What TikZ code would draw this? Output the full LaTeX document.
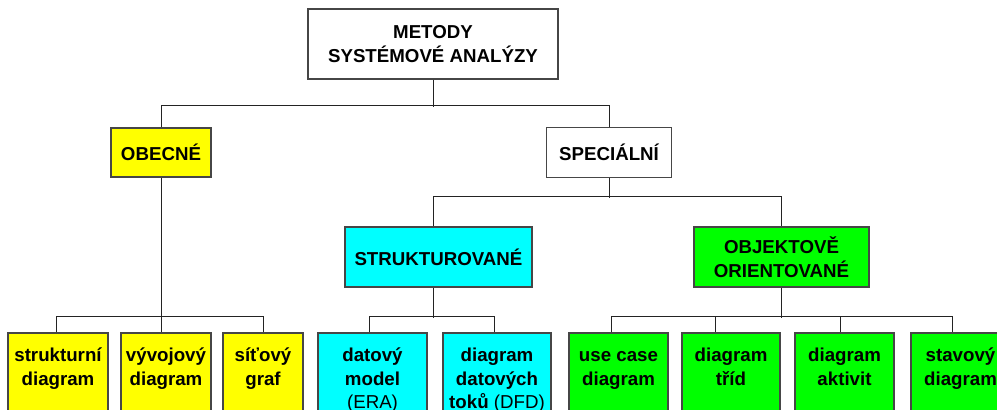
\documentclass[tikz,border=0pt]{standalone}
\usepackage{fontspec}
\setmainfont{Liberation Sans}
\usetikzlibrary{positioning}
\definecolor{boxyellow}{RGB}{255,255,0}
\definecolor{boxcyan}{RGB}{0,255,255}
\definecolor{boxgreen}{RGB}{0,255,0}
\definecolor{edgegray}{RGB}{70,70,70}
\definecolor{linkgray}{RGB}{35,35,35}
\newcommand\diagfont{\fontsize{18.7}{23.5}\selectfont\bfseries}

\begin{document}
\begin{tikzpicture}[x=1pt,y=-1pt,
  box/.style={draw=edgegray, line width=1.3pt, inner sep=0pt, font=\diagfont, align=center},
  leaf/.style={box, minimum height=110pt},
  leaftext/.style={inner sep=0pt, font=\diagfont, align=center},
  link/.style={draw=linkgray, line width=1pt}]

\fill[white] (0,0) rectangle (997,410);
\useasboundingbox (0,0) rectangle (997,410);
\clip (0,0) rectangle (997,410);

% upper levels
\node[box, minimum width=250pt, minimum height=70pt] (root) at (433,44) {METODY\\SYSTÉMOVÉ ANALÝZY};
\node[box, fill=boxyellow, minimum width=100pt, minimum height=49pt] (obec) at (161,152.5) {OBECNÉ};
\node[box, minimum width=125pt, minimum height=50pt] (spec) at (609,152.5) {SPECIÁLNÍ};
\node[box, fill=boxcyan, minimum width=187pt, minimum height=60pt] (strukt) at (438.5,257) {STRUKTUROVANÉ};
\node[box, fill=boxgreen, minimum width=175pt, minimum height=60pt] (objekt) at (781.5,257) {OBJEKTOVĚ\\ORIENTOVANÉ};

% leaf boxes
\node[leaf, fill=boxyellow, minimum width=100pt] (b1) at (58,388) {};
\node[leaf, fill=boxyellow, minimum width=90pt]  (b2) at (166,388) {};
\node[leaf, fill=boxyellow, minimum width=80pt]  (b3) at (263,388) {};
\node[leaf, fill=boxcyan, minimum width=109pt]   (b4) at (372.5,388) {};
\node[leaf, fill=boxcyan, minimum width=108pt]   (b5) at (497,388) {};
\node[leaf, fill=boxgreen, minimum width=99pt]   (b6) at (618.5,388) {};
\node[leaf, fill=boxgreen, minimum width=98pt]   (b7) at (731,388) {};
\node[leaf, fill=boxgreen, minimum width=99pt]   (b8) at (844.5,388) {};
\node[leaf, fill=boxgreen, minimum width=99pt]   (b9) at (960.5,388) {};

% leaf labels, set at the top of each box
\node[leaftext, below=12.5pt of b1.north] (t1) {\strut strukturní\\diagram};
\node[leaftext, below=12.5pt of b2.north] (t2) {\strut vývojový\\diagram};
\node[leaftext, below=12.5pt of b3.north] (t3) {\strut síťový\\graf};
\node[leaftext, below=12.5pt of b4.north] (t4) {\strut datový\\model\\{\mdseries(ERA)}};
\node[leaftext, below=12.5pt of b5.north] (t5) {\strut diagram\\datových\\toků {\mdseries(DFD)}};
\node[leaftext, below=12.5pt of b6.north] (t6) {\strut use case\\diagram};
\node[leaftext, below=12.5pt of b7.north] (t7) {\strut diagram\\tříd};
\node[leaftext, below=12.5pt of b8.north] (t8) {\strut diagram\\aktivit};
\node[leaftext, below=12.5pt of b9.north] (t9) {\strut stavový\\diagram};

% connectors
\draw[link] (root.south) -- ++(0,27);
\draw[link] (obec.north) -- ++(0,-22) -| (spec.north);
\draw[link] (obec.south) -- ([xshift=-5pt]b2.north);
\draw[link] ([xshift=-2pt]b1.north) -- ++(0,-16) -| (b3.north);
\draw[link] (spec.south) -- ++(0,20);
\draw[link] ([xshift=-5.5pt]strukt.north) -- ++(0,-30) -| (objekt.north);
\draw[link] ([xshift=-5.5pt]strukt.south) -- ++(0,30);
\draw[link] ([xshift=-3.5pt]b4.north) -- ++(0,-16) -| ([xshift=-3pt]b5.north);
\draw[link] (objekt.south) -- ++(0,30);
\draw[link] ([xshift=-7.5pt]b6.north) -- ++(0,-16) -| ([xshift=-8.5pt]b9.north);
\draw[link] ([xshift=-16pt]b7.north) -- ++(0,-16);
\draw[link] ([xshift=-4.5pt]b8.north) -- ++(0,-16);
\end{tikzpicture}
\end{document}
